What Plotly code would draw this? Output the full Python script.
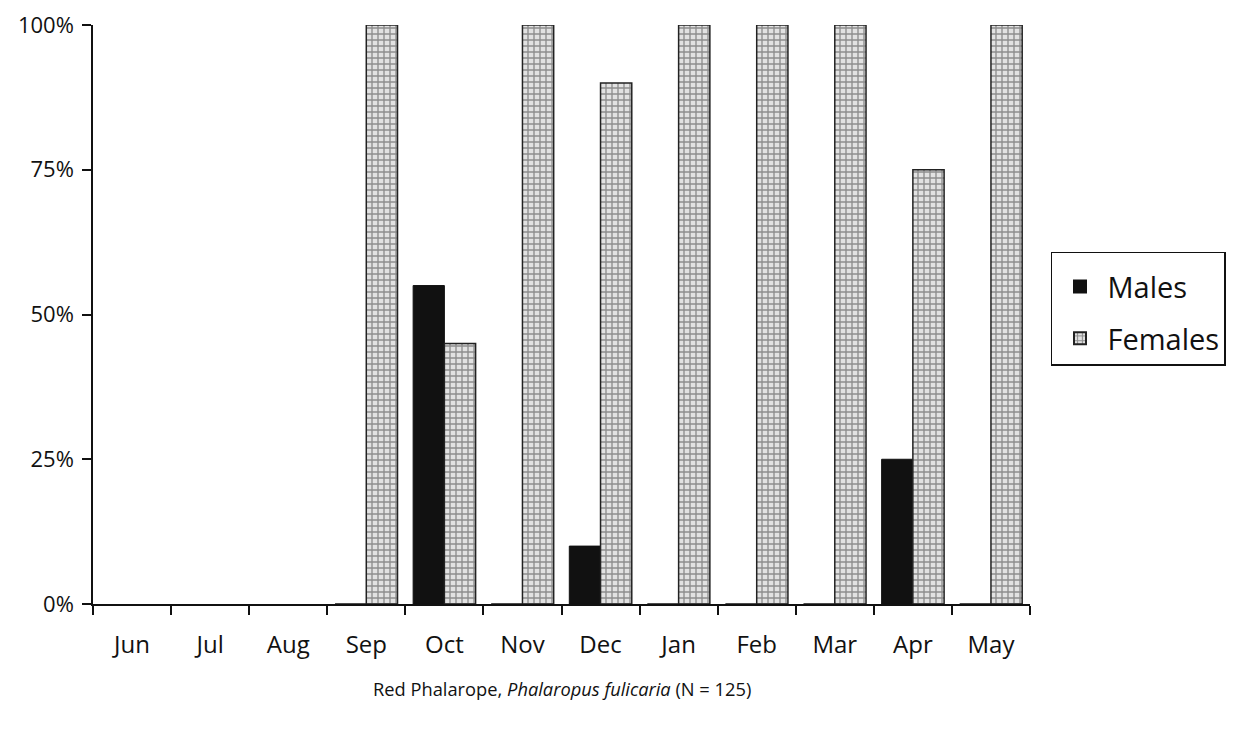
import plotly.graph_objects as go

months = ["Jun", "Jul", "Aug", "Sep", "Oct", "Nov", "Dec", "Jan", "Feb", "Mar", "Apr", "May"]
# None = no birds recorded that month
males = [None, None, None, 0, 55, 0, 10, 0, 0, 0, 25, 0]
females = [None, None, None, 100, 45, 100, 90, 100, 100, 100, 75, 100]
y_ticks = [0, 25, 50, 75, 100]
y_tick_labels = ["0%", "25%", "50%", "75%", "100%"]

FONT = "'Open Sans', Lato, sans-serif"

fig = go.Figure()
fig.add_trace(go.Bar(
    x=months, y=males, name="Males", legendgroup="m",
    marker=dict(color="#111111", line=dict(color="#111111", width=1)),
))
fig.add_trace(go.Bar(
    x=months, y=females, name="Females", legendgroup="f",
    marker=dict(
        color="#d9d9d9",
        line=dict(color="#222222", width=1.5),
        pattern=dict(shape="+", size=6, solidity=0.4, fgcolor="#3a3a3a", bgcolor="#e2e2e2"),
    ),
))

fig.update_layout(
    width=1248, height=734,
    paper_bgcolor="white", plot_bgcolor="white",
    margin=dict(l=85, r=226, t=17, b=138),
    barmode="group", bargap=0.2, bargroupgap=0,
    font=dict(family=FONT, size=24, color="#111111"),
    showlegend=True,
    legend=dict(
        x=1.0224, xanchor="left", y=0.608, yanchor="top",
        bordercolor="#111111", borderwidth=1.5, bgcolor="white",
        font=dict(size=29), itemsizing="constant", itemwidth=45,
        tracegroupgap=11, traceorder="grouped",
        title=dict(text=" ", font=dict(size=6)),
    ),
    xaxis=dict(
        type="category", showgrid=False, showline=True, linecolor="#111111", linewidth=1.5,
        ticks="outside", tickson="boundaries", ticklen=9, tickwidth=1.5, tickcolor="#111111",
        tickfont=dict(size=24), zeroline=False, automargin=False, ticklabelstandoff=18,
    ),
    yaxis=dict(
        range=[0, 100], tickvals=y_ticks, ticktext=y_tick_labels,
        showgrid=False, showline=True, linecolor="#111111", linewidth=1.5,
        ticks="outside", ticklen=9, tickwidth=1.5, tickcolor="#111111",
        tickfont=dict(size=22), zeroline=False, automargin=False, ticklabelstandoff=4,
        ticklabeloverflow="allow",
    ),
    annotations=[dict(
        text="Red Phalarope, <i>Phalaropus fulicaria</i> (N = 125)",
        xref="paper", yref="paper", x=0.5, y=-0.1452, xanchor="center", yanchor="middle",
        showarrow=False, font=dict(size=18.3),
    )],
)

fig.write_html("out.html")
